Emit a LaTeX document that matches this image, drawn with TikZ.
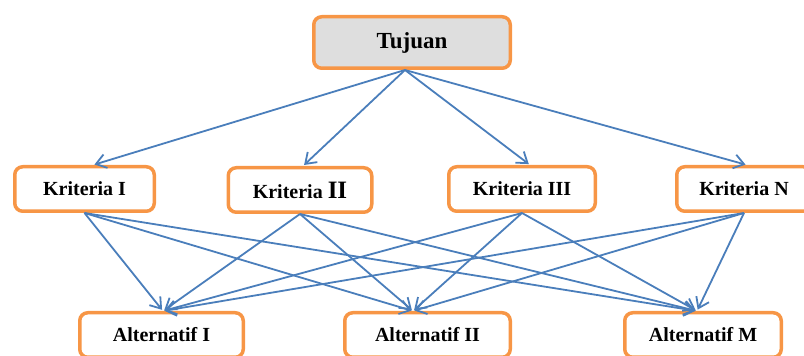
\documentclass[tikz,border=0pt]{standalone}
\usepackage{fontspec}
\setmainfont{Liberation Serif}
\usetikzlibrary{arrows.meta}
\definecolor{boxorange}{HTML}{F79646}
\definecolor{lineblue}{HTML}{4A7EBB}

\begin{document}
\begin{tikzpicture}[x=1pt,y=1pt,>={Straight Barb[length=10pt,width=14pt]},
  box/.style={draw=boxorange,line width=3.5pt,rounded corners=8pt,fill=white,
    minimum height=44.5pt,inner sep=0pt,font=\fontsize{20}{24}\selectfont\bfseries},
  arr/.style={->,lineblue,line width=1.8pt,shorten >=1.5pt}]
\useasboundingbox (0,0) rectangle (804,356);
\clip (0,0) rectangle (804,356);
\node[box,fill=black!13,minimum width=196.5pt,minimum height=51.5pt,
  font=\fontsize{23}{26}\selectfont\bfseries] (tujuan) at (412,313.5) {Tujuan};
\node[box,minimum width=139.5pt] (k1) at (84.5,167) {Kriteria I};
\node[box,minimum width=143.5pt] (k2) at (300,166) {Kriteria {\fontsize{25}{25}\selectfont II}};
\node[box,minimum width=146.5pt] (k3) at (522,167) {Kriteria III};
\node[box,minimum width=134.5pt] (kN) at (744,167) {Kriteria N};
\node[box,minimum width=163.5pt] (a1) at (161.5,21) {Alternatif I};
\node[box,minimum width=165.5pt] (a2) at (427.5,21) {Alternatif II};
\node[box,minimum width=156.5pt] (aM) at (703,21) {Alternatif M};
% tujuan ke kriteria
\foreach \k/\s in {k1/8.5,k2/3,k3/8,kN/3}
  \draw[arr] ([xshift=-7pt]tujuan.south) -- ([xshift=\s pt]\k.north);
% kriteria ke alternatif
\foreach \k in {k1,k2,k3,kN}
  \foreach \a/\s in {a1/1.5,a2/-14.5,aM/-6}
    \draw[arr] (\k.south) -- ([xshift=\s pt]\a.north);
\end{tikzpicture}
\end{document}
